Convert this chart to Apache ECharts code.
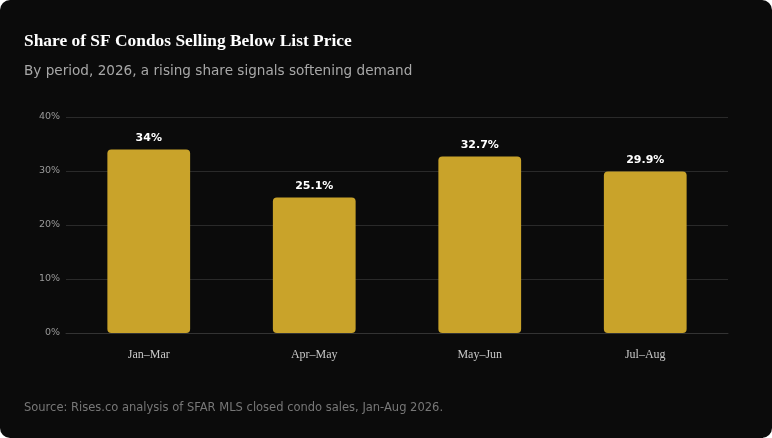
<!DOCTYPE html>
<html><head><meta charset="utf-8">
<script src="https://cdn.jsdelivr.net/npm/echarts@6/dist/echarts.min.js"></script>
<style>
html,body{margin:0;padding:0;background:#fff;}
#card{position:absolute;left:0;top:0;width:772px;height:438px;background:#0b0b0b;border-radius:10px;overflow:hidden;}
#c{width:772px;height:438px;}
</style></head>
<body><div id="card"><div id="c"></div></div>
<script>
const categories = ["Jan–Mar","Apr–May","May–Jun","Jul–Aug"];
const values = [34, 25.1, 32.7, 29.9];
const yTicks = [0, 10, 20, 30, 40];

const chart = echarts.init(document.getElementById('c'), null, {renderer:'canvas'});
chart.setOption({
  backgroundColor: 'transparent',
  animation: false,
  title: [
    {text:'Share of SF Condos Selling Below List Price', left:24, top:33, padding:0,
     textStyle:{fontFamily:'Liberation Serif, serif', fontWeight:'bold', fontSize:17.4, color:'#ffffff'}},
    {text:'By period, 2026, a rising share signals softening demand', left:24, top:64, padding:0,
     textStyle:{fontFamily:'DejaVu Sans, sans-serif', fontWeight:'normal', fontSize:13.6, color:'#a8a8a8'}},
    {text:'Source: Rises.co analysis of SFAR MLS closed condo sales, Jan-Aug 2026.', left:24, top:402, padding:0,
     textStyle:{fontFamily:'DejaVu Sans, sans-serif', fontWeight:'normal', fontSize:11.5, color:'#777777'}}
  ],
  grid: {left:66, right:44, top:117, bottom:105},
  xAxis: {
    type:'category', data: categories,
    axisLine:{show:true, lineStyle:{color:'#333333'}},
    axisTick:{show:false},
    axisLabel:{color:'#c8c8c8', fontFamily:'Liberation Serif, serif', fontSize:12, margin:16}
  },
  yAxis: {
    type:'value', min:yTicks[0], max:yTicks[yTicks.length-1], interval:10,
    axisLine:{show:false}, axisTick:{show:false},
    splitLine:{lineStyle:{color:'#2a2a2a'}},
    axisLabel:{color:'#9a9a9a', fontFamily:'DejaVu Sans, sans-serif', fontSize:9.5, margin:6, formatter:'{value}%'}
  },
  series: [{
    type:'bar', data: values, barWidth:'50%',
    itemStyle:{color:'#c9a32a', borderRadius:4},
    label:{show:true, position:'top', distance:6, color:'#ffffff',
      fontFamily:'DejaVu Sans, sans-serif', fontWeight:'bold', fontSize:11,
      formatter: p => p.value + '%'}
  }]
});
</script></body></html>
